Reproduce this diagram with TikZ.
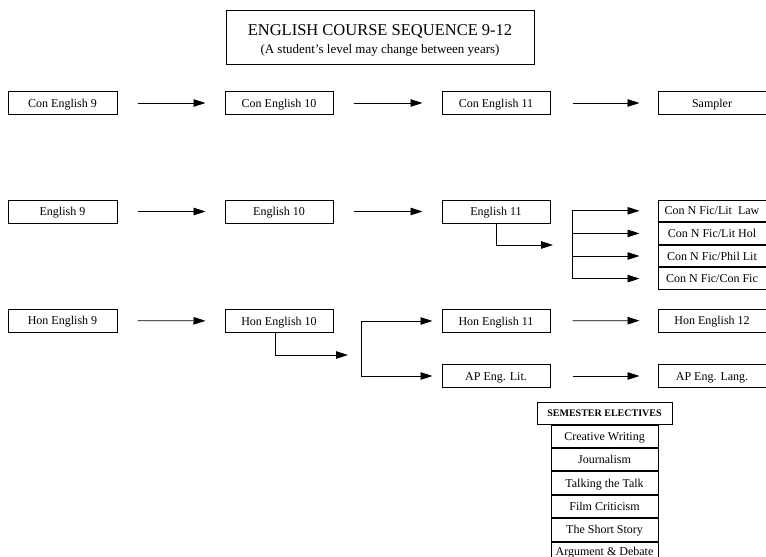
\documentclass[tikz,border=0pt]{standalone}
\usepackage{fontspec}
\setmainfont{Liberation Serif}
\usetikzlibrary{arrows.meta}
\begin{document}
\begin{tikzpicture}[x=1pt,y=-1pt,
  box/.style={draw, line width=1pt, minimum width=108pt, minimum height=23pt, inner sep=0pt, text height=10pt, text depth=2pt, font=\fontsize{12}{14}\selectfont},
  stackbox/.style={box, minimum height=21.6pt},
  elbox/.style={box, minimum width=107pt, minimum height=22.4pt},
  arr/.style={line width=0.8pt, -{Triangle[length=12pt,width=7.5pt]}},
  ln/.style={line width=0.8pt},
  gap/.style={shorten <=20pt, shorten >=19pt}]
\useasboundingbox (0,0) rectangle (766,557);
% title
\node[draw, line width=1pt, minimum width=308pt, minimum height=54pt, inner sep=0pt, align=center, font=\fontsize{13}{17}\selectfont] (title) at (380,37)
  {\rule{0pt}{18pt}{\fontsize{16.5}{20}\selectfont ENGLISH COURSE SEQUENCE 9-12}\\[1pt](A student's level may change between years)};
% row 1
\node[box, minimum width=109pt] (c9) at (62.5,103) {Con English 9};
\node[box] (c10) at (279,103) {Con English 10};
\node[box] (c11) at (496,103) {Con English 11};
\node[box] (samp) at (712,103) {Sampler};
\draw[arr,gap] (c9) -- (c10);
\draw[arr,gap] (c10) -- (c11);
\draw[arr,shorten <=22pt, shorten >=18pt] (c11) -- (samp);
% row 2
\node[box, minimum width=109pt] (e9) at (62.5,211.5) {English 9};
\node[box] (e10) at (279,211.5) {English 10};
\node[box] (e11) at (496,211.5) {English 11};
\node[stackbox] (n1) at (712,210.8) {Con N Fic/Lit\ \ Law};
\node[stackbox, anchor=north] (n2) at (n1.south) {Con N Fic/Lit Hol};
\node[stackbox, anchor=north] (n3) at (n2.south) {Con N Fic/Phil Lit};
\node[stackbox, anchor=north] (n4) at (n3.south) {Con N Fic/Con Fic};
\draw[arr,gap] (e9) -- (e10);
\draw[arr,gap] (e10) -- (e11);
\coordinate (e11end) at (553,245);
\draw[arr] (e11.south) |- (e11end);
\coordinate (br2) at (572,240);
\draw[ln] (br2 |- n1) -- (br2 |- n4);
\foreach \n in {n1,n2,n3,n4}
  \draw[arr, shorten >=18pt] (br2 |- \n) -- (\n);
% row 3
\node[box, minimum width=109pt] (h9) at (62.5,320.5) {Hon English 9};
\node[box] (h10) at (279,321) {Hon English 10};
\node[box] (h11) at (496,321) {Hon English 11};
\node[box] (h12) at (712,320.5) {Hon English 12};
\node[box] (apl) at (496,376) {AP Eng. Lit.};
\node[box] (apg) at (712,376) {AP Eng. Lang.};
\draw[arr,gap] (h9) -- (h10);
\coordinate (h10end) at (348,355);
\draw[arr] ([xshift=-4pt]h10.south) |- (h10end);
\coordinate (br3) at (361,350);
\draw[ln] (br3 |- h11) -- (br3 |- apl);
\draw[arr, shorten >=9pt] (br3 |- h11) -- (h11);
\draw[arr, shorten >=9pt] (br3 |- apl) -- (apl);
\draw[arr,shorten <=22pt, shorten >=18pt] (h11) -- (h12);
\draw[arr,shorten <=22pt, shorten >=18pt] (apl) -- (apg);
% electives
\node[box, minimum width=135pt, minimum height=22pt, text height=8pt, text depth=1.5pt, font=\fontsize{10}{12}\selectfont\bfseries] (sem) at (604.5,413) {SEMESTER ELECTIVES};
\node[elbox, anchor=north] (el1) at (sem.south) {Creative Writing};
\node[elbox, anchor=north] (el2) at (el1.south) {Journalism};
\node[elbox, anchor=north] (el3) at (el2.south) {Talking the Talk};
\node[elbox, anchor=north] (el4) at (el3.south) {Film Criticism};
\node[elbox, anchor=north] (el5) at (el4.south) {The Short Story};
\node[elbox, anchor=north, text height=9pt, text depth=5pt] (el6) at (el5.south) {Argument \& Debate};
\end{tikzpicture}
\end{document}
